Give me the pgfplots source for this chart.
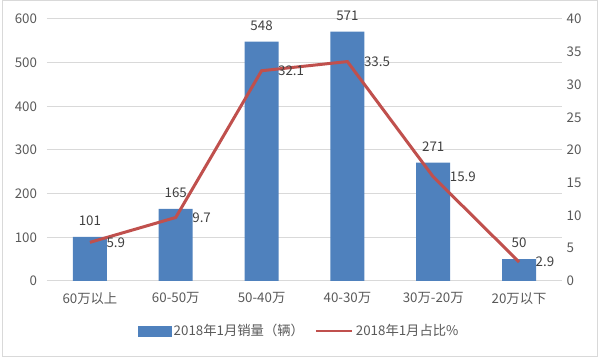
\documentclass[border=0pt]{standalone}
\usepackage{fontspec}
\setmainfont{Noto Sans CJK SC}
\usepackage{pgfplots}
\pgfplotsset{compat=1.18}
\definecolor{barblue}{HTML}{4F81BD}
\definecolor{linered}{HTML}{C0504D}
\definecolor{txtgray}{HTML}{595959}
\definecolor{lbl}{HTML}{404040}
\definecolor{gridgray}{HTML}{D9D9D9}
\begin{document}
\begin{tikzpicture}
\useasboundingbox (0,0) rectangle (450pt,270pt);
\draw[gridgray, line width=0.75pt] (1.5pt,2.25pt) rectangle (448pt,269.25pt);
\pgfplotsset{
  common/.style={
    at={(35.25pt,59.25pt)}, anchor=south west, scale only axis,
    width=386.25pt, height=196.5pt,
    xmin=-0.5, xmax=5.5, clip=false,
    axis line style={draw=none},
    major tick length=0pt, tick style={draw=none},
    tick label style={font=\fontsize{10}{12}\selectfont, text=txtgray},
    /pgf/number format/assume math mode=true,
  }
}
\begin{axis}[common,
  ymin=0, ymax=600, ytick={0,100,...,600},
  xtick={0,...,5},
  xticklabels={60万以上,60-50万,50-40万,40-30万,30万-20万,20万以下},
  xticklabel style={yshift=-5pt},
  yticklabel style={xshift=-4pt},
  ymajorgrids, grid style={gridgray, line width=0.75pt},
  ybar, bar width=25.5pt,
  nodes near coords,
  nodes near coords style={font=\fontsize{10}{12}\selectfont, text=lbl, yshift=5pt},
]
\addplot[fill=barblue, draw=none] coordinates {(0,101) (1,165) (2,548) (3,571) (4,271) (5,50)};
\end{axis}
\begin{axis}[common,
  ymin=0, ymax=40, ytick={0,5,...,40},
  axis y line*=right, xtick=\empty,
  legend style={at={(0.49,-0.19)}, anchor=center, draw=none, fill=none,
    legend columns=2, font=\fontsize{10}{12}\selectfont, text=txtgray,
    /tikz/every even column/.append style={column sep=6pt}},
]
\addplot[linered, line width=2.25pt, mark=none, forget plot,
  nodes near coords,
  nodes near coords style={font=\fontsize{10}{12}\selectfont, text=lbl, anchor=west, xshift=8pt}]
  coordinates {(0,5.9) (1,9.7) (2,32.1) (3,33.5) (4,15.9) (5,2.9)};
\addlegendimage{legend image code/.code={\fill[barblue] (0pt,-3.75pt) rectangle (24.75pt,3.75pt);}}
\addlegendentry{2018年1月销量（辆）}
\addlegendimage{legend image code/.code={\draw[linered, line width=1.9pt] (-3pt,0pt) -- (24pt,0pt);}}
\addlegendentry{2018年1月占比\%}
\end{axis}
\end{tikzpicture}
\end{document}
